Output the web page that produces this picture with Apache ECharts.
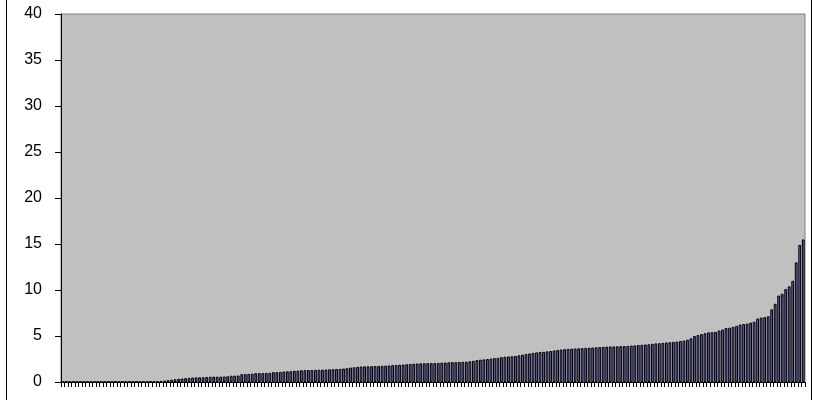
<!DOCTYPE html>
<html><head><meta charset="utf-8">
<script src="https://cdn.jsdelivr.net/npm/echarts@6/dist/echarts.min.js"></script>
<style>html,body{margin:0;padding:0;background:#fff}#c{width:813px;height:400px}</style>
</head><body><div id="c"></div>
<script>
var values = [
0,0,0,0,0,0,0,0,0,0,0,0,0,0,0,0,0,0,0,0,0,0,0,0,0,
0.05,0.08,0.1,0.12,0.15,0.2,0.25,0.3,0.35,0.38,0.42,0.45,0.48,
0.5,
0.51,0.52,0.55,0.57,0.58,0.58,0.58,0.6,0.62,
0.68,0.69,0.7,
0.85,0.87,0.88,0.9,
0.96,0.97,0.98,0.99,1.0,
1.07,1.08,1.1,
1.14,1.16,1.18,
1.22,1.24,
1.28,1.29,1.3,1.31,1.32,
1.33,1.34,1.36,
1.38,1.4,1.41,1.43,
1.47,1.5,
1.57,1.6,
1.64,1.68,1.7,1.71,1.72,1.73,
1.75,1.76,1.78,1.8,
1.83,1.85,1.88,
1.9,1.93,
1.96,1.99,2.01,
2.03,2.04,2.05,2.06,2.07,2.08,
2.1,2.12,2.14,2.16,2.17,2.18,2.19,2.2,
2.25,2.3,
2.38,2.43,2.46,2.5,
2.55,2.6,2.63,
2.7,2.75,2.78,2.8,2.83,
2.9,2.97,
3.05,3.1,
3.17,3.22,3.26,3.28,
3.33,3.37,
3.43,3.48,
3.53,3.57,3.6,3.62,
3.64,3.66,3.68,
3.71,3.73,3.75,3.77,3.8,
3.82,3.84,
3.86,3.87,3.88,3.9,3.91,3.92,
3.95,3.98,
4.02,4.05,4.08,
4.1,4.15,4.2,
4.22,4.25,4.3,
4.33,4.36,4.4,
4.45,4.5,4.6,
4.75,5.0,5.1,
5.2,5.3,5.4,
5.42,5.45,
5.6,5.7,
5.87,5.9,
6.0,6.1,
6.25,6.3,6.35,
6.45,6.55,
6.9,7.0,
7.05,7.15,
7.9,8.5,9.4,9.6,10.1,10.4,11.0,13.0,14.9,15.5
];
var categories = values.map(function(v, i){ return String(i + 1); });
var yTicks = ['0','5','10','15','20','25','30','35','40'];

var chart = echarts.init(document.getElementById('c'), null, {renderer:'canvas'});
chart.setOption({
  animation:false,
  backgroundColor:'#ffffff',
  grid:{left:61,right:8,top:14,bottom:18,show:true,backgroundColor:'#C0C0C0',borderColor:'#808080',borderWidth:1},
  xAxis:{type:'category',data:categories,
    axisLine:{lineStyle:{color:'#000',width:1}},
    axisTick:{show:true,interval:0,length:5,lineStyle:{color:'#000',width:1}},
    axisLabel:{show:false},splitLine:{show:false}},
  yAxis:{type:'value',min:0,max:40,interval:5,
    axisLine:{show:true,lineStyle:{color:'#000',width:1}},
    axisTick:{show:true,length:6,lineStyle:{color:'#000'}},
    axisLabel:{margin:19,color:'#000',fontSize:16,fontFamily:'Liberation Sans, Arial, sans-serif',
      formatter:function(v){ var s=String(v); return yTicks.indexOf(s)>=0?s:''; }},
    splitLine:{show:false}},
  series:[{type:'bar',data:values,barCategoryGap:'20%',
    itemStyle:{color:'#6666bb',borderColor:'#000',borderWidth:1}}],
  graphic:[{type:'rect',shape:{x:6.5,y:-5,width:805,height:410},style:{fill:'none',stroke:'#000',lineWidth:1},silent:true}]
});
</script></body></html>
